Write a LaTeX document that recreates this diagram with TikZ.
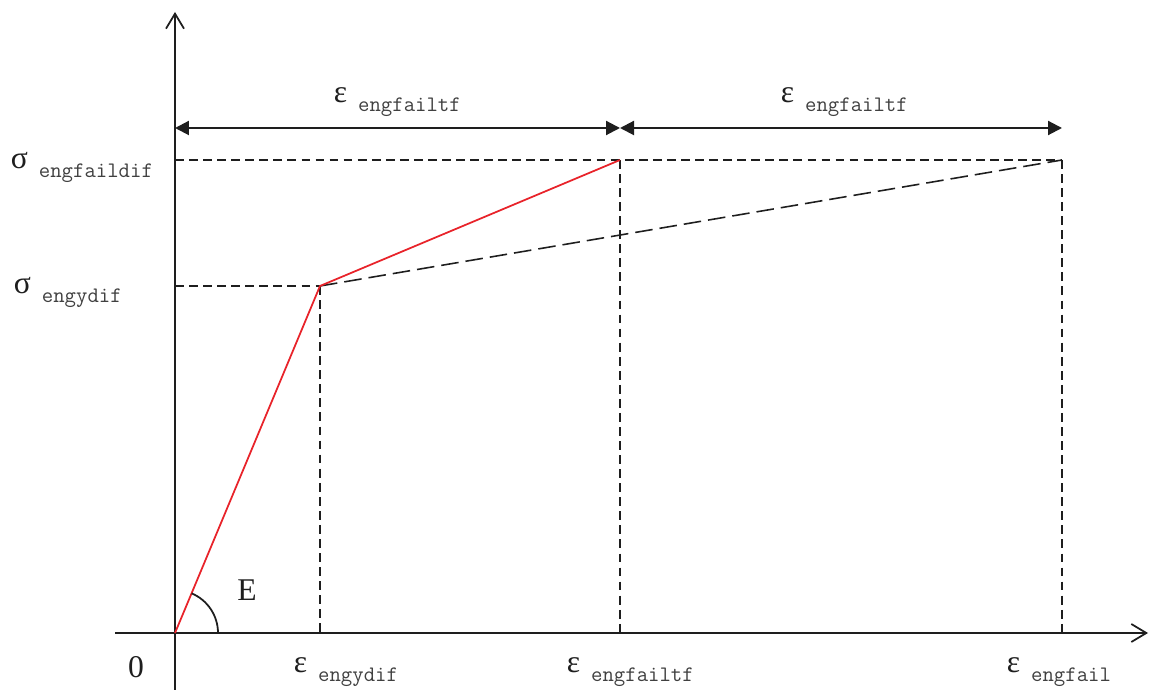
\documentclass[tikz,border=0pt]{standalone}
\usepackage{fontspec}
\setmainfont{Liberation Serif}
\usetikzlibrary{arrows.meta}
\usepackage{xcolor}
\definecolor{Ink}{HTML}{1E1E1E}
\definecolor{CurveRed}{HTML}{E8232A}
\definecolor{SubGray}{HTML}{404040}
% symbol with a lowered name as subscript
\newcommand{\symlbl}[2]{{\fontsize{18}{18}\selectfont #1}\hspace{0.22cm}%
  \raisebox{-0.17cm}{\ttfamily\fontsize{12.6}{12.6}\selectfont\color{SubGray}#2}}

\begin{document}
\begin{tikzpicture}[x=0.02cm,y=0.02cm,Ink,line width=1pt,
    axis/.style={-{Straight Barb[length=0.3cm,width=0.36cm]}},
    dimline/.style={{Triangle[length=0.28cm,width=0.28cm]}-{Triangle[length=0.28cm,width=0.28cm]},line width=1.2pt},
    guide/.style={dashed,dash pattern=on 5pt off 3pt,line width=0.9pt},
    lbl/.style={anchor=base west,inner sep=0pt,text=Ink}]
  \useasboundingbox (0,0) rectangle (1150,693);

  % points of the curve
  \coordinate (O) at (175,60);
  \coordinate (Y) at (320,407);
  \coordinate (F) at (620,533);
  \coordinate (G) at (1062,533);
  \coordinate (Ybot) at (320,60);
  \coordinate (Fbot) at (620,60);
  \coordinate (Gbot) at (1062,60);
  \coordinate (Yax) at (175,407);
  \coordinate (Fax) at (175,533);
  \coordinate (D0) at (175,565);
  \coordinate (D1) at (620,565);
  \coordinate (D2) at (1062,565);

  % axes
  \coordinate (xs) at (115,60);  \coordinate (xe) at (1148,60);
  \coordinate (ys) at (175,3);   \coordinate (ye) at (175,681);
  \draw[axis] (xs) -- (xe);
  \draw[axis] (ys) -- (ye);

  % guide lines
  \draw[guide] (Fax) -- (G);
  \draw[guide] (Yax) -- (Y);
  \draw[guide] (Y) -- (Ybot);
  \draw[guide] (F) -- (Fbot);
  \draw[guide] (G) -- (Gbot);
  \draw[dashed,dash pattern=on 10pt off 4pt,line width=0.9pt] (Y) -- (G);

  % bilinear curve
  \draw[CurveRed,line width=1pt] (O) -- (Y) -- (F);
  \draw (O) ++(0:0.86cm) arc[start angle=0,end angle=67.3,radius=0.86cm];

  % dimension arrows
  \draw[dimline] (D0) -- (D1);
  \draw[dimline] (D1) -- (D2);

  % labels
  \node[lbl] (sfail) at (10,524) {\symlbl{σ}{engfaildif}};
  \node[lbl] (sy) at (13,399) {\symlbl{σ}{engydif}};
  \node[lbl] (d1) at (333,590) {\symlbl{ε}{engfailtf}};
  \node[lbl] (d2) at (780,590) {\symlbl{ε}{engfailtf}};
  \node[lbl] (ey) at (293,20) {\symlbl{ε}{engydif}};
  \node[lbl] (ef) at (566,20) {\symlbl{ε}{engfailtf}};
  \node[lbl] (eg) at (1006,20) {\symlbl{ε}{engfail}};
  \node[font=\fontsize{18}{18}\selectfont] (zero) at (136,26) {0};
  \node[font=\fontsize{18}{18}\selectfont] (modE) at (247,103) {E};
\end{tikzpicture}
\end{document}
